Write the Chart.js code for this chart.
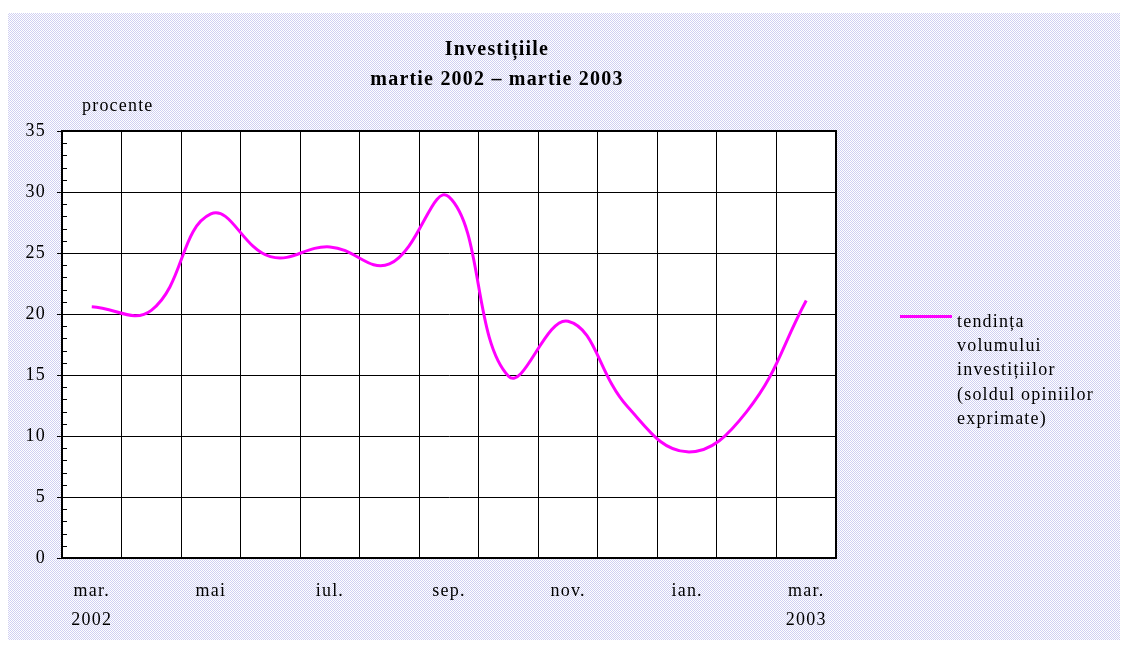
<!DOCTYPE html>
<html>
<head>
<meta charset="utf-8">
<script src="https://cdn.jsdelivr.net/npm/chart.js@4/dist/chart.umd.min.js"></script>
<style>
  html, body { margin: 0; padding: 0; background: #ffffff; }
  #wrap { position: relative; width: 1127px; height: 645px; overflow: hidden; }
  #bg { position: absolute; left: 8px; top: 13px; width: 1112px; height: 627px;
        background: repeating-conic-gradient(#d0d0f2 0 25%, #ffffff 0 50%) 0 0 / 2px 2px; }
  canvas { position: absolute; left: 0; top: 0; }
  .txt { position: absolute; font-family: "Liberation Serif", "DejaVu Serif", serif; color: #000; letter-spacing: 1.2px; font-size: 18px; white-space: nowrap; }
  #title { left: 297px; width: 400px; top: 33px; text-align: center; font-weight: bold; font-size: 20px; letter-spacing: 1.2px; line-height: 30px; }
  #unit { left: 82px; top: 95px; }
  #legline { position: absolute; left: 900px; top: 315px; width: 52px; height: 3px; background: #ff00ff; }
  #legtext { left: 957px; top: 309px; line-height: 24.2px; }
</style>
</head>
<body>
<div id="wrap">
  <div id="bg"></div>
  <canvas id="c" width="1127" height="645"></canvas>
  <div class="txt" id="title">Investițiile<br>martie 2002 – martie 2003</div>
  <div class="txt" id="unit">procente</div>
  <div id="legline"></div>
  <div class="txt" id="legtext">tendința<br>volumului<br>investițiilor<br>(soldul opiniilor<br>exprimate)</div>
</div>
<script>
// ---- data ----
const months = ['mar. 2002','apr.','mai','iun.','iul.','aug.','sep.','oct.','nov.','dec.','ian.','feb.','mar. 2003'];
const tickLabels = [['mar.','2002'],'','mai','','iul.','','sep.','','nov.','','ian.','',['mar.','2003']];
const investValues = [20.6, 20.3, 28.2, 24.7, 25.5, 24.1, 29.6, 14.9, 19.4, 12.4, 8.7, 12.0, 21.1];
const seriesName = 'tendința volumului investițiilor (soldul opiniilor exprimate)';
const yMin = 0, yMax = 35, yStep = 5, yMinorStep = 1;

const FONT = '"Liberation Serif", "DejaVu Serif", serif';
const SPACING = '1.2px';

const spacingPlugin = {
  id: 'spacing',
  beforeLayout(chart) { chart.ctx.letterSpacing = SPACING; },
  beforeDraw(chart) {
    chart.ctx.letterSpacing = SPACING;
    const a = chart.chartArea, ctx = chart.ctx;
    ctx.save();
    ctx.fillStyle = '#ffffff';
    ctx.fillRect(a.left, a.top, a.right - a.left, a.bottom - a.top);
    ctx.restore();
  },
  afterDraw(chart) {
    const a = chart.chartArea, ctx = chart.ctx, ys = chart.scales.y;
    ctx.save();
    ctx.strokeStyle = '#000';
    ctx.lineWidth = 1;
    for (let v = yMin; v <= yMax; v += yMinorStep) {
      if (v % yStep === 0) continue;
      const p = Math.round(ys.getPixelForValue(v)) + 0.5;
      ctx.beginPath();
      ctx.moveTo(a.left, p);
      ctx.lineTo(a.left + 5, p);
      ctx.stroke();
    }
    ctx.lineWidth = 2;
    ctx.beginPath();
    ctx.moveTo(a.left, a.top);
    ctx.lineTo(a.right, a.top);
    ctx.lineTo(a.right, a.bottom);
    ctx.stroke();
    ctx.restore();
  }
};

new Chart(document.getElementById('c'), {
  type: 'line',
  data: {
    labels: months,
    datasets: [{
      label: seriesName,
      data: investValues,
      borderColor: '#ff00ff',
      borderWidth: 3,
      pointRadius: 0,
      tension: 0.42,
      fill: false
    }]
  },
  options: {
    responsive: false,
    animation: false,
    layout: { padding: { left: 0, right: 291, top: 131, bottom: 0 } },
    plugins: { legend: { display: false }, title: { display: false }, tooltip: { enabled: false } },
    scales: {
      x: {
        type: 'category',
        offset: true,
        afterFit(s) { s.height = 87; },
        grid: { offset: true, color: '#000', lineWidth: 1, drawTicks: false },
        border: { color: '#000', width: 2 },
        ticks: {
          autoSkip: false, maxRotation: 0, minRotation: 0,
          color: '#000', padding: 18,
          font: { family: FONT, size: 18, lineHeight: 1.65 },
          callback: (v, i) => tickLabels[i]
        }
      },
      y: {
        min: yMin, max: yMax,
        afterFit(s) { s.width = 62; },
        grid: { color: '#000', lineWidth: 1, drawTicks: true, tickLength: 5, tickColor: '#000' },
        border: { color: '#000', width: 2 },
        ticks: {
          stepSize: yStep, color: '#000', padding: 11,
          font: { family: FONT, size: 18 }
        }
      }
    }
  },
  plugins: [spacingPlugin]
});
</script>
</body>
</html>
